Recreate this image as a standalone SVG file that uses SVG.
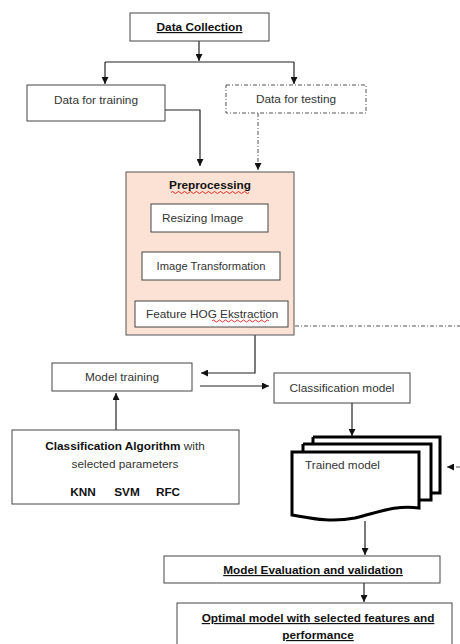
<svg xmlns="http://www.w3.org/2000/svg" width="460" height="644" viewBox="0 0 460 644">
<defs>
<style>
.box{fill:#fff;stroke:#444;stroke-width:1}
.dd{fill:#fff;stroke:#555;stroke-width:1;stroke-dasharray:4 2 1 2}
.t{font-family:"Liberation Sans",Arial,sans-serif;font-size:11.8px;fill:#333}
.b{font-weight:bold;fill:#111}
.u{text-decoration:underline}
.c{stroke:#222;stroke-width:1.2;fill:none}
.cd{stroke:#555;stroke-width:1;fill:none;stroke-dasharray:4 2 1 2}
.doc{fill:#fff;stroke:#000;stroke-width:3;stroke-linejoin:miter}
.wav{fill:none;stroke:#d00;stroke-width:0.8}
</style>
<marker id="ah" viewBox="0 0 8 8" refX="8" refY="4" markerWidth="7" markerHeight="7" orient="auto" markerUnits="userSpaceOnUse">
<path d="M0,0 L8,4 L0,8 z" fill="#111"/>
</marker>
</defs>
<rect width="460" height="644" fill="#fff"/>

<g id="connectors">
<path class="c" d="M199,41 V61" marker-end="url(#ah)"/>
<path class="c" d="M105,62 H294"/>
<path class="c" d="M105,62 V84" marker-end="url(#ah)"/>
<path class="c" d="M294,62 V84" marker-end="url(#ah)"/>
<path class="c" d="M165,110 H200 V166" marker-end="url(#ah)"/>
<path class="cd" d="M258,113 V170" marker-end="url(#ah)"/>
<path class="cd" d="M295,326 H460"/>
<path class="c" d="M255,335 V373 H201" marker-end="url(#ah)"/>
<path class="c" d="M200,386 H269" marker-end="url(#ah)"/>
<path class="c" d="M116,430 V393" marker-end="url(#ah)"/>
<path class="c" d="M352,403 V436" marker-end="url(#ah)"/>
<path class="cd" d="M460,467 H447" marker-end="url(#ah)"/>
<path class="c" d="M365,521 V555" marker-end="url(#ah)"/>
<path class="c" d="M364,583 V602" marker-end="url(#ah)"/>
</g>

<g id="data-collection">
<rect class="box" x="130" y="13" width="139" height="28"/>
<text class="t b u" x="199.5" y="31" text-anchor="middle">Data Collection</text>
</g>

<g id="data-training">
<rect class="box" x="27" y="85" width="138" height="36"/>
<text class="t" x="96" y="104" text-anchor="middle">Data for training</text>
</g>

<g id="data-testing">
<rect class="dd" x="226" y="85" width="140" height="28"/>
<text class="t" x="296" y="103" text-anchor="middle">Data for testing</text>
</g>

<g id="preprocessing">
<rect x="126" y="172" width="168" height="163" fill="#fbe2d5" stroke="#555" stroke-width="1"/>
<text class="t b" x="210" y="189" text-anchor="middle">Preprocessing</text>
<path class="wav" d="M171,192.5 q1.5,-2 3,0 t3,0 t3,0 t3,0 t3,0 t3,0 t3,0 t3,0 t3,0 t3,0 t3,0 t3,0 t3,0 t3,0 t3,0 t3,0 t3,0 t3,0 t3,0 t3,0 t3,0 t3,0 t3,0 t3,0 t3,0 t3,0"/>
</g>

<g id="resizing-image">
<rect class="box" x="151" y="204" width="117" height="28"/>
<text class="t" x="162" y="222">Resizing Image</text>
</g>

<g id="image-transformation">
<rect class="box" x="142" y="252" width="138" height="28"/>
<text class="t" x="211" y="270" text-anchor="middle" style="font-size:11.2px">Image Transformation</text>
</g>

<g id="feature-hog">
<rect class="box" x="135" y="301" width="153" height="26"/>
<text class="t" x="146" y="318">Feature HOG Ekstraction</text>
<path class="wav" d="M212,321 q1.5,-2 3,0 t3,0 t3,0 t3,0 t3,0 t3,0 t3,0 t3,0 t3,0 t3,0 t3,0 t3,0 t3,0 t3,0 t3,0 t3,0 t3,0 t3,0 t3,0"/>
</g>

<g id="model-training">
<rect class="box" x="52" y="363" width="140" height="28"/>
<text class="t" x="122" y="381" text-anchor="middle">Model training</text>
</g>

<g id="classification-model">
<rect class="box" x="274" y="373" width="136" height="30"/>
<text class="t" x="342" y="392" text-anchor="middle">Classification model</text>
</g>

<g id="classification-algorithm">
<rect class="box" x="12" y="430" width="227" height="74"/>
<text class="t" x="125" y="450" text-anchor="middle"><tspan class="b">Classification Algorithm</tspan> with</text>
<text class="t" x="125" y="468" text-anchor="middle">selected parameters</text>
<text class="t b" x="83" y="496" text-anchor="middle">KNN</text>
<text class="t b" x="127" y="496" text-anchor="middle">SVM</text>
<text class="t b" x="168" y="496" text-anchor="middle">RFC</text>
</g>

<g id="trained-model">
<path class="doc" d="M313,437 H440 V493 H432"/>
<path class="doc" d="M313,437 V444"/>
<path class="doc" d="M303,444 H431 V500 H420"/>
<path class="doc" d="M303,444 V452"/>
<path class="doc" d="M292,452 H419 V508 C395,505 380,512 355,518 C330,523 310,518 292,515 Z"/>
<text class="t" x="305" y="469">Trained model</text>
</g>

<g id="model-evaluation">
<rect class="box" x="164" y="556" width="276" height="27"/>
<text class="t b u" x="313" y="574" text-anchor="middle">Model Evaluation and validation</text>
</g>

<g id="optimal-model">
<rect class="box" x="177" y="603" width="275" height="50"/>
<text class="t b u" x="318" y="622" text-anchor="middle">Optimal model with selected features and</text>
<text class="t b u" x="318" y="639" text-anchor="middle">performance</text>
</g>
</svg>
